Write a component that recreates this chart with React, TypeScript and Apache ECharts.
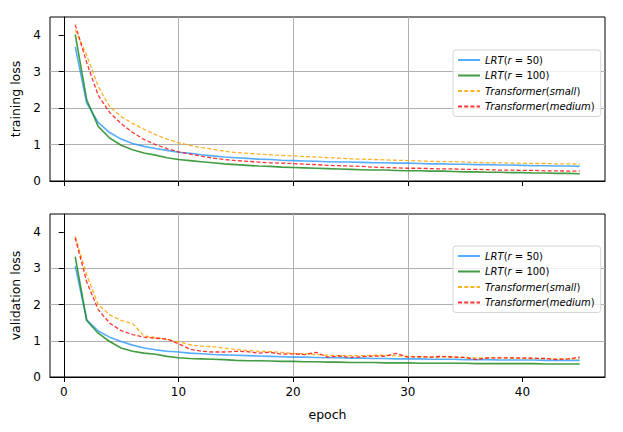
import React, { useEffect, useRef } from "react";
import * as echarts from "echarts";

const epochs = [1, 2, 3, 4, 5, 6, 7, 8, 9, 10, 11, 12, 13, 14, 15, 16, 17, 18, 19, 20, 21, 22, 23, 24, 25, 26, 27, 28, 29, 30, 31, 32, 33, 34, 35, 36, 37, 38, 39, 40, 41, 42, 43, 44, 45];
const xTicks = [0, 10, 20, 30, 40];
const yTicks = [0, 1, 2, 3, 4];

const seriesNames = ["LRT(r = 50)", "LRT(r = 100)", "Transformer(small)", "Transformer(medium)"];

const trainLrt50 = [3.68, 2.14, 1.61, 1.33, 1.15, 1.03, 0.95, 0.89, 0.84, 0.79, 0.76, 0.72, 0.69, 0.66, 0.64, 0.62, 0.6, 0.59, 0.57, 0.56, 0.55, 0.54, 0.53, 0.52, 0.52, 0.51, 0.5, 0.5, 0.49, 0.49, 0.48, 0.47, 0.47, 0.46, 0.46, 0.45, 0.45, 0.44, 0.44, 0.43, 0.42, 0.42, 0.41, 0.41, 0.4];
const trainLrt100 = [4.02, 2.23, 1.5, 1.18, 0.98, 0.86, 0.77, 0.71, 0.64, 0.59, 0.56, 0.53, 0.5, 0.47, 0.45, 0.43, 0.41, 0.4, 0.38, 0.37, 0.36, 0.35, 0.34, 0.33, 0.32, 0.31, 0.3, 0.3, 0.29, 0.28, 0.28, 0.27, 0.27, 0.26, 0.25, 0.25, 0.24, 0.24, 0.23, 0.23, 0.22, 0.22, 0.21, 0.21, 0.2];
const trainSmall = [4.15, 3.45, 2.6, 2.04, 1.77, 1.58, 1.42, 1.27, 1.15, 1.05, 0.98, 0.92, 0.87, 0.82, 0.78, 0.76, 0.74, 0.72, 0.7, 0.69, 0.67, 0.66, 0.64, 0.63, 0.61, 0.6, 0.59, 0.58, 0.57, 0.56, 0.55, 0.54, 0.53, 0.53, 0.52, 0.51, 0.5, 0.5, 0.49, 0.49, 0.48, 0.48, 0.47, 0.47, 0.46];
const trainMedium = [4.29, 3.25, 2.35, 1.88, 1.58, 1.33, 1.14, 1.0, 0.89, 0.8, 0.74, 0.68, 0.63, 0.59, 0.56, 0.54, 0.52, 0.5, 0.49, 0.48, 0.46, 0.45, 0.43, 0.42, 0.41, 0.4, 0.38, 0.37, 0.36, 0.35, 0.35, 0.34, 0.33, 0.33, 0.32, 0.32, 0.31, 0.3, 0.3, 0.29, 0.29, 0.28, 0.28, 0.27, 0.27];

const valLrt50 = [3.07, 1.58, 1.27, 1.1, 0.98, 0.88, 0.8, 0.75, 0.71, 0.69, 0.66, 0.64, 0.62, 0.61, 0.6, 0.59, 0.58, 0.57, 0.56, 0.55, 0.55, 0.54, 0.53, 0.53, 0.52, 0.52, 0.51, 0.51, 0.5, 0.5, 0.5, 0.49, 0.49, 0.49, 0.48, 0.48, 0.48, 0.47, 0.47, 0.47, 0.47, 0.46, 0.46, 0.46, 0.46];
const valLrt100 = [3.32, 1.56, 1.21, 0.98, 0.8, 0.71, 0.66, 0.63, 0.57, 0.53, 0.51, 0.5, 0.49, 0.48, 0.46, 0.45, 0.45, 0.44, 0.43, 0.43, 0.42, 0.42, 0.41, 0.41, 0.4, 0.4, 0.4, 0.39, 0.39, 0.39, 0.38, 0.38, 0.38, 0.38, 0.38, 0.37, 0.37, 0.37, 0.37, 0.37, 0.37, 0.36, 0.36, 0.36, 0.36];
const valSmall = [3.88, 2.82, 2.0, 1.72, 1.56, 1.48, 1.13, 1.09, 1.03, 0.97, 0.89, 0.85, 0.84, 0.8, 0.76, 0.73, 0.71, 0.7, 0.68, 0.65, 0.64, 0.62, 0.6, 0.59, 0.59, 0.59, 0.6, 0.6, 0.58, 0.57, 0.56, 0.55, 0.55, 0.55, 0.54, 0.53, 0.53, 0.53, 0.52, 0.51, 0.51, 0.51, 0.5, 0.5, 0.5];
const valMedium = [3.84, 2.63, 1.86, 1.49, 1.28, 1.17, 1.1, 1.07, 1.05, 0.92, 0.77, 0.71, 0.69, 0.69, 0.71, 0.7, 0.66, 0.68, 0.63, 0.64, 0.62, 0.68, 0.55, 0.58, 0.54, 0.56, 0.58, 0.57, 0.65, 0.55, 0.56, 0.55, 0.57, 0.55, 0.54, 0.48, 0.53, 0.53, 0.53, 0.53, 0.52, 0.51, 0.48, 0.5, 0.55];

const colors = ["rgba(30,144,255,0.75)", "rgba(34,139,34,0.85)", "rgba(255,165,0,0.85)", "rgba(255,0,0,0.8)"];
const dashed = [false, false, true, true];

const FONT = "DejaVu Sans";

function legendFormatter(name: string): string {
  if (name === "LRT(r = 50)") return "{i|LRT}({i|r} = 50)";
  if (name === "LRT(r = 100)") return "{i|LRT}({i|r} = 100)";
  if (name === "Transformer(small)") return "{i|Transformer}({i|small})";
  return "{i|Transformer}({i|medium})";
}

export default function App() {
  const ref = useRef<HTMLDivElement>(null);
  useEffect(() => {
    if (!ref.current) return;
    const chart = echarts.init(ref.current, undefined, { renderer: "svg" });
    const trainData = [trainLrt50, trainLrt100, trainSmall, trainMedium];
    const valData = [valLrt50, valLrt100, valSmall, valMedium];
    const mkSeries = (data: number[][], idx: number) =>
      data.map((vals, i) => ({
        name: seriesNames[i],
        type: "line",
        xAxisIndex: idx,
        yAxisIndex: idx,
        data: epochs.map((e, k) => [e, vals[k]]),
        showSymbol: false,
        symbol: "none",
        lineStyle: {
          color: colors[i],
          width: dashed[i] ? 1.3 : 1.6,
          type: dashed[i] ? [4, 2.2] : "solid",
        },
        itemStyle: { color: colors[i] },
        z: 2 + i,
      }));

    const mkX = (idx: number, showLabels: boolean) => ({
      type: "value",
      gridIndex: idx,
      min: -1.2,
      max: 47.2,
      name: showLabels ? "epoch" : "",
      nameLocation: "middle",
      nameGap: 31,
      nameTextStyle: { fontFamily: FONT, fontSize: 12.5, color: "#000" },
      axisLine: { show: true, onZero: false, lineStyle: { color: "#000", width: 1 } },
      axisTick: { show: true, inside: false, length: 5, customValues: xTicks, lineStyle: { color: "#000", width: 1 } },
      axisLabel: { show: showLabels, customValues: xTicks, margin: 9, fontFamily: FONT, fontSize: 12, color: "#000" },
      splitLine: { show: true, showMinLine: false, showMaxLine: false, lineStyle: { color: "#b0b0b0", width: 1 } },
    });
    const mkY = (idx: number, name: string) => ({
      type: "value",
      gridIndex: idx,
      min: 0,
      max: 4.5,
      name,
      nameLocation: "middle",
      nameGap: 28,
      nameTextStyle: { fontFamily: FONT, fontSize: 12.5, color: "#000" },
      axisLine: { show: true, lineStyle: { color: "#000", width: 1 } },
      axisTick: { show: true, inside: false, length: 5, customValues: yTicks, lineStyle: { color: "#000", width: 1 } },
      axisLabel: { show: true, customValues: yTicks, margin: 9, fontFamily: FONT, fontSize: 12, color: "#000" },
      splitLine: { show: true, showMinLine: false, showMaxLine: false, lineStyle: { color: "#b0b0b0", width: 1 } },
    });
    const mkLegend = (top: number) => ({
      data: seriesNames,
      orient: "vertical",
      left: 453,
      top,
      itemWidth: 22,
      itemHeight: 9,
      itemGap: 5.5,
      padding: [5, 6, 5, 4],
      backgroundColor: "rgba(255,255,255,0.8)",
      borderColor: "#d5d5d5",
      borderWidth: 1,
      borderRadius: 3,
      formatter: legendFormatter,
      itemStyle: { color: "transparent", borderColor: "transparent", borderWidth: 0, opacity: 0 },
      textStyle: {
        fontFamily: FONT,
        fontSize: 10,
        color: "#000",
        rich: { i: { fontStyle: "italic", fontFamily: FONT, fontSize: 10, color: "#000" } },
      },
      selectedMode: false,
    });

    chart.setOption({
      animation: false,
      backgroundColor: "#fff",
      grid: [
        { left: 50, top: 17, width: 555, height: 164, show: true, borderColor: "#000", borderWidth: 1, containLabel: false },
        { left: 50, top: 214, width: 555, height: 163, show: true, borderColor: "#000", borderWidth: 1, containLabel: false },
      ],
      xAxis: [mkX(0, false), mkX(1, true)],
      yAxis: [mkY(0, "training loss"), mkY(1, "validation loss")],
      legend: [mkLegend(50), mkLegend(246)],
      series: [...mkSeries(trainData, 0), ...mkSeries(valData, 1)],
    });
    return () => chart.dispose();
  }, []);
  return <div ref={ref} style={{ position: "fixed", left: 0, top: 0, width: 623, height: 432 }} />;
}
